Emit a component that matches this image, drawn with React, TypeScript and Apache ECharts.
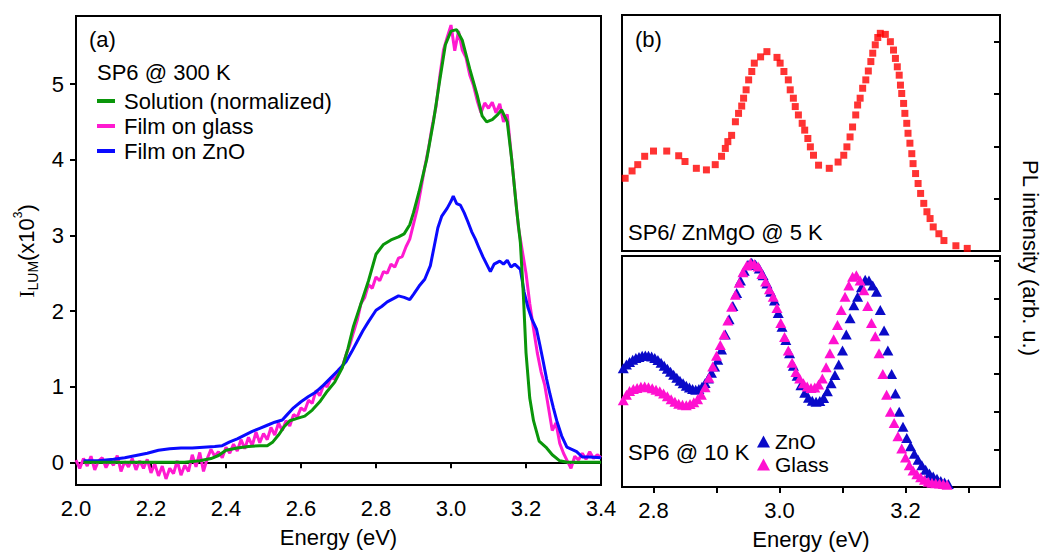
import React, { useEffect, useRef } from "react";
import * as echarts from "echarts";

const FONT = "'Liberation Sans', Arial, sans-serif";

// ---------- Panel (a) ----------
const xTicksA = [2.0, 2.2, 2.4, 2.6, 2.8, 3.0, 3.2, 3.4];
const yTicksA = [0, 1, 2, 3, 4, 5];

const solutionE = [2.02, 2.1, 2.2, 2.29, 2.33, 2.36, 2.38, 2.4, 2.43, 2.46, 2.49, 2.51, 2.525, 2.54, 2.555, 2.57, 2.59, 2.61, 2.63, 2.65, 2.67, 2.69, 2.71, 2.725, 2.74, 2.76, 2.78, 2.8, 2.82, 2.84, 2.86, 2.875, 2.89, 2.9, 2.915, 2.935, 2.953, 2.97, 2.985, 3.0, 3.015, 3.03, 3.05, 3.07, 3.083, 3.095, 3.11, 3.125, 3.135, 3.15, 3.162, 3.175, 3.185, 3.193, 3.2, 3.21, 3.22, 3.235, 3.255, 3.27, 3.29, 3.31, 3.4];
const solutionI = [0, 0, 0, 0, 0.02, 0.05, 0.09, 0.16, 0.19, 0.21, 0.22, 0.22, 0.27, 0.36, 0.47, 0.55, 0.58, 0.61, 0.69, 0.8, 0.94, 1.06, 1.25, 1.5, 1.8, 2.1, 2.4, 2.75, 2.88, 2.94, 2.98, 3.02, 3.14, 3.3, 3.58, 4.0, 4.5, 5.05, 5.52, 5.7, 5.72, 5.58, 5.2, 4.85, 4.58, 4.5, 4.53, 4.6, 4.66, 4.5, 4.0, 3.34, 2.9, 2.21, 1.45, 0.85, 0.55, 0.28, 0.19, 0.1, 0.02, 0, 0];

const znoFilmE = [2.02, 2.06, 2.1, 2.13, 2.16, 2.19, 2.22, 2.25, 2.28, 2.31, 2.34, 2.37, 2.39, 2.41, 2.43, 2.45, 2.47, 2.49, 2.51, 2.53, 2.55, 2.565, 2.58, 2.6, 2.62, 2.64, 2.66, 2.68, 2.7, 2.72, 2.735, 2.75, 2.765, 2.78, 2.8, 2.815, 2.83, 2.845, 2.86, 2.875, 2.89, 2.9, 2.915, 2.93, 2.945, 2.955, 2.965, 2.975, 2.99, 3.0, 3.006, 3.015, 3.025, 3.035, 3.045, 3.055, 3.065, 3.075, 3.085, 3.095, 3.105, 3.115, 3.13, 3.14, 3.15, 3.16, 3.17, 3.185, 3.195, 3.205, 3.215, 3.228, 3.237, 3.246, 3.255, 3.264, 3.273, 3.282, 3.295, 3.309, 3.322, 3.335, 3.35, 3.37, 3.4];
const znoFilmI = [0.02, 0.02, 0.04, 0.06, 0.09, 0.12, 0.16, 0.18, 0.19, 0.19, 0.2, 0.21, 0.22, 0.27, 0.31, 0.36, 0.41, 0.45, 0.49, 0.53, 0.56, 0.64, 0.72, 0.8, 0.87, 0.93, 1.02, 1.12, 1.22, 1.33, 1.46, 1.6, 1.74, 1.86, 2.01, 2.06, 2.12, 2.16, 2.2, 2.18, 2.15, 2.22, 2.33, 2.42, 2.6, 2.85, 3.1, 3.25, 3.36, 3.45, 3.52, 3.42, 3.4, 3.3, 3.18, 3.05, 2.95, 2.83, 2.72, 2.62, 2.52, 2.62, 2.66, 2.62, 2.67, 2.58, 2.62, 2.55, 2.25, 2.05, 1.9, 1.76, 1.55, 1.33, 1.1, 0.9, 0.72, 0.55, 0.35, 0.2, 0.17, 0.14, 0.07, 0.07, 0.06];

const glassFilmE = [2.0, 2.01, 2.02, 2.03, 2.04, 2.05, 2.06, 2.07, 2.08, 2.09, 2.1, 2.11, 2.12, 2.13, 2.14, 2.15, 2.16, 2.17, 2.18, 2.19, 2.2, 2.21, 2.22, 2.23, 2.24, 2.25, 2.26, 2.27, 2.28, 2.29, 2.3, 2.31, 2.32, 2.33, 2.34, 2.35, 2.36, 2.37, 2.38, 2.39, 2.4, 2.41, 2.42, 2.43, 2.44, 2.45, 2.46, 2.47, 2.48, 2.49, 2.5, 2.51, 2.52, 2.53, 2.54, 2.55, 2.56, 2.57, 2.58, 2.59, 2.6, 2.61, 2.62, 2.63, 2.64, 2.65, 2.66, 2.67, 2.68, 2.69, 2.7, 2.71, 2.72, 2.73, 2.74, 2.75, 2.76, 2.77, 2.78, 2.79, 2.8, 2.81, 2.82, 2.83, 2.84, 2.85, 2.86, 2.87, 2.88, 2.89, 2.9, 2.91, 2.92, 2.93, 2.94, 2.95, 2.96, 2.97, 2.98, 2.99, 3.0, 3.01, 3.02, 3.03, 3.04, 3.05, 3.06, 3.07, 3.08, 3.09, 3.1, 3.11, 3.12, 3.13, 3.14, 3.15, 3.16, 3.17, 3.18, 3.19, 3.2, 3.21, 3.22, 3.23, 3.24, 3.25, 3.26, 3.27, 3.28, 3.29, 3.3, 3.31, 3.32, 3.33, 3.34, 3.35, 3.36, 3.37, 3.38, 3.39, 3.4];
const glassFilmI = [0.03, -0.08, 0.05, -0.05, 0.08, -0.1, 0.02, 0.06, -0.07, 0.03, -0.04, 0.09, -0.12, 0.01, -0.06, 0.05, -0.1, 0.02, -0.08, 0.04, -0.14, -0.02, -0.18, -0.05, -0.22, -0.08, -0.15, 0.02, -0.17, -0.04, -0.12, 0.1, -0.06, 0.13, -0.12, 0.05, 0.17, 0.08, 0.14, 0.06, 0.2, 0.12, 0.24, 0.15, 0.3, 0.18, 0.33, 0.22, 0.4, 0.26, 0.38, 0.3, 0.46, 0.36, 0.52, 0.42, 0.55, 0.48, 0.63, 0.6, 0.72, 0.68, 0.82, 0.78, 0.95, 0.88, 1.02, 1.0, 1.12, 1.1, 1.22, 1.26, 1.42, 1.55, 1.72, 1.88, 2.1, 2.18, 2.35, 2.3, 2.45, 2.4, 2.52, 2.5, 2.62, 2.58, 2.7, 2.72, 2.85, 2.95, 3.15, 3.35, 3.62, 3.9, 4.15, 4.45, 4.7, 5.1, 5.45, 5.62, 5.78, 5.44, 5.7, 5.45, 5.35, 5.12, 4.98, 4.78, 4.62, 4.75, 4.68, 4.76, 4.62, 4.74, 4.5, 4.6, 4.1, 3.6, 3.1, 2.8, 2.5, 2.1, 1.77, 1.45, 1.2, 1.02, 0.72, 0.42, 0.52, 0.25, 0.12, 0.02, -0.08, 0.08, 0.03, 0.12, 0.04, 0.14, 0.05, 0.1, 0.06];

// ---------- Panel (b) ----------
const xTicksB = [2.8, 2.9, 3.0, 3.1, 3.2, 3.3];
const xLabelsB = [2.8, 3.0, 3.2];
const yTicksBTop = [0, 1, 2, 3, 4];
const yTicksBBottom = [0, 1, 2, 3, 4, 5, 6];

const znmgoE = [2.755, 2.766, 2.775, 2.786, 2.8, 2.821, 2.84, 2.85, 2.868, 2.884, 2.898, 2.908, 2.914, 2.918, 2.924, 2.93, 2.935, 2.94, 2.943, 2.947, 2.951, 2.956, 2.96, 2.97, 2.98, 2.996, 3.001, 3.007, 3.014, 3.017, 3.022, 3.025, 3.03, 3.036, 3.04, 3.045, 3.049, 3.054, 3.062, 3.079, 3.093, 3.102, 3.107, 3.112, 3.116, 3.121, 3.124, 3.128, 3.132, 3.137, 3.141, 3.145, 3.148, 3.152, 3.156, 3.16, 3.168, 3.176, 3.181, 3.184, 3.187, 3.19, 3.192, 3.194, 3.197, 3.199, 3.202, 3.204, 3.207, 3.21, 3.212, 3.216, 3.22, 3.224, 3.229, 3.234, 3.239, 3.244, 3.253, 3.261, 3.28, 3.298];
const znmgoPL = [1.39, 1.53, 1.65, 1.81, 1.91, 1.91, 1.82, 1.71, 1.58, 1.55, 1.65, 1.81, 1.96, 2.09, 2.21, 2.47, 2.63, 2.77, 2.92, 3.08, 3.27, 3.43, 3.59, 3.71, 3.81, 3.7, 3.59, 3.43, 3.27, 3.08, 2.92, 2.76, 2.6, 2.44, 2.31, 2.15, 1.99, 1.83, 1.64, 1.58, 1.7, 1.83, 1.99, 2.18, 2.37, 2.6, 2.79, 2.92, 3.11, 3.27, 3.44, 3.62, 3.78, 3.94, 4.08, 4.16, 4.14, 4.0, 3.84, 3.68, 3.52, 3.36, 3.17, 3.01, 2.82, 2.63, 2.44, 2.25, 2.06, 1.86, 1.67, 1.48, 1.29, 1.1, 0.91, 0.75, 0.62, 0.46, 0.33, 0.2, 0.1, 0.05];

const znoE = [2.752, 2.757, 2.762, 2.767, 2.772, 2.777, 2.782, 2.787, 2.792, 2.797, 2.802, 2.807, 2.812, 2.817, 2.822, 2.827, 2.832, 2.837, 2.842, 2.847, 2.852, 2.857, 2.862, 2.867, 2.872, 2.877, 2.882, 2.887, 2.892, 2.897, 2.902, 2.908, 2.914, 2.92, 2.926, 2.932, 2.938, 2.944, 2.95, 2.956, 2.962, 2.968, 2.974, 2.98, 2.986, 2.992, 2.998, 3.004, 3.01, 3.016, 3.022, 3.028, 3.034, 3.04, 3.046, 3.052, 3.058, 3.064, 3.07, 3.076, 3.082, 3.088, 3.094, 3.1, 3.106, 3.112, 3.118, 3.124, 3.13, 3.136, 3.142, 3.148, 3.154, 3.16, 3.166, 3.172, 3.178, 3.184, 3.19, 3.196, 3.202, 3.208, 3.214, 3.22, 3.226, 3.232, 3.238, 3.244, 3.25, 3.256, 3.262, 3.268];
const znoPL = [3.15, 3.25, 3.32, 3.38, 3.42, 3.45, 3.48, 3.49, 3.48, 3.46, 3.42, 3.37, 3.3, 3.22, 3.14, 3.06, 2.98, 2.9, 2.82, 2.75, 2.69, 2.64, 2.6, 2.58, 2.6, 2.66, 2.76, 2.88, 3.03, 3.2, 3.38, 3.65, 4.05, 4.45, 4.8, 5.15, 5.48, 5.74, 5.9, 5.95, 5.9, 5.8, 5.62, 5.4, 5.18, 4.95, 4.62, 4.25, 3.9, 3.55, 3.22, 2.95, 2.7, 2.5, 2.37, 2.29, 2.26, 2.28, 2.36, 2.54, 2.75, 2.97, 3.25, 3.62, 4.05, 4.48, 4.82, 5.05, 5.3, 5.5, 5.48, 5.35, 5.18, 4.7, 4.15, 3.62, 3.0, 2.48, 2.0, 1.6, 1.3, 1.08, 0.88, 0.72, 0.58, 0.46, 0.36, 0.28, 0.22, 0.16, 0.12, 0.08];

const glassE = [2.752, 2.757, 2.762, 2.768, 2.774, 2.78, 2.786, 2.792, 2.798, 2.804, 2.81, 2.816, 2.822, 2.828, 2.834, 2.84, 2.846, 2.852, 2.858, 2.864, 2.87, 2.876, 2.882, 2.888, 2.894, 2.9, 2.906, 2.912, 2.918, 2.924, 2.93, 2.936, 2.942, 2.948, 2.954, 2.96, 2.966, 2.972, 2.978, 2.984, 2.99, 2.996, 3.002, 3.008, 3.014, 3.02, 3.026, 3.032, 3.038, 3.044, 3.05, 3.056, 3.062, 3.068, 3.074, 3.08, 3.086, 3.092, 3.098, 3.104, 3.11, 3.116, 3.122, 3.128, 3.134, 3.14, 3.146, 3.152, 3.158, 3.164, 3.17, 3.176, 3.182, 3.188, 3.194, 3.2, 3.206, 3.212, 3.218, 3.224, 3.23, 3.236, 3.242, 3.248, 3.254, 3.26, 3.266];
const glassPL = [2.3, 2.45, 2.55, 2.6, 2.63, 2.66, 2.67, 2.65, 2.62, 2.58, 2.54, 2.48, 2.41, 2.33, 2.26, 2.21, 2.18, 2.17, 2.2, 2.25, 2.33, 2.45, 2.65, 2.9, 3.2, 3.48, 3.77, 4.05, 4.42, 4.78, 5.1, 5.42, 5.7, 5.88, 5.95, 5.92, 5.85, 5.65, 5.45, 5.25, 5.05, 4.75, 4.35, 3.98, 3.62, 3.3, 3.05, 2.88, 2.75, 2.67, 2.63, 2.64, 2.72, 2.88, 3.18, 3.55, 3.92, 4.3, 4.7, 5.05, 5.35, 5.58, 5.62, 5.48, 5.22, 4.8, 4.35, 4.0, 3.55, 3.0, 2.45, 2.0, 1.7, 1.35, 1.02, 0.78, 0.58, 0.44, 0.34, 0.26, 0.19, 0.14, 0.11, 0.1, 0.09, 0.08, 0.06];

const zip = (a: number[], b: number[]) => a.map((v, i) => [v, b[i]]);

const BLACK = "#000";
const GREEN = "#0a960a";
const PINK = "#ff1ad0";
const BLUE = "#0a0aff";
const RED = "#ff0000";
const TRI_BLUE = "#0a0ac8";
const TRI_PINK = "#ff10d0";
const FS = 22;

export default function App() {
  const ref = useRef<HTMLDivElement>(null);
  useEffect(() => {
    if (!ref.current) return;
    const chart = echarts.init(ref.current, null, { renderer: "svg" });
    const axisLine = { show: true, lineStyle: { color: BLACK, width: 2 } };
    const frame = { show: true, borderColor: BLACK, borderWidth: 2, backgroundColor: "transparent" };
    const labelStyle = { color: BLACK, fontSize: FS, fontFamily: FONT };
    const font = `${FS}px ${FONT}`;
    const option: any = {
      animation: false,
      backgroundColor: "#fff",
      textStyle: { fontFamily: FONT, color: BLACK },
      grid: [
        { left: 76, top: 16, width: 525, height: 472, ...frame },
        { left: 622, top: 15, width: 378, height: 236, ...frame },
        { left: 622, top: 256, width: 378, height: 231, ...frame },
      ],
      xAxis: [
        {
          gridIndex: 0, type: "value", min: 2.0, max: 3.4,
          axisLine, splitLine: { show: false },
          axisTick: { show: true, inside: false, length: 6, lineStyle: { color: BLACK, width: 2 }, customValues: xTicksA },
          axisLabel: { ...labelStyle, margin: 12, customValues: xTicksA, formatter: (v: number) => v.toFixed(1) },
          name: "Energy (eV)", nameLocation: "middle", nameGap: 41,
          nameTextStyle: { ...labelStyle },
        },
        {
          gridIndex: 1, type: "value", min: 2.75, max: 3.35,
          axisLine, splitLine: { show: false }, axisTick: { show: false }, axisLabel: { show: false },
        },
        {
          gridIndex: 2, type: "value", min: 2.75, max: 3.35,
          axisLine, splitLine: { show: false },
          axisTick: { show: true, inside: false, length: 6, lineStyle: { color: BLACK, width: 2 }, customValues: xTicksB },
          axisLabel: { ...labelStyle, margin: 12, customValues: xLabelsB, formatter: (v: number) => v.toFixed(1) },
          name: "Energy (eV)", nameLocation: "middle", nameGap: 41,
          nameTextStyle: { ...labelStyle },
        },
      ],
      yAxis: [
        {
          gridIndex: 0, type: "value", min: -0.3, max: 5.9,
          axisLine, splitLine: { show: false },
          axisTick: { show: true, inside: false, length: 6, lineStyle: { color: BLACK, width: 2 }, customValues: yTicksA },
          axisLabel: { ...labelStyle, margin: 12, customValues: yTicksA },
        },
        {
          gridIndex: 1, type: "value", min: 0, max: 4.51, position: "right",
          axisLine, splitLine: { show: false },
          axisTick: { show: true, inside: true, length: 6, lineStyle: { color: BLACK, width: 2 }, customValues: yTicksBTop },
          axisLabel: { show: false },
        },
        {
          gridIndex: 2, type: "value", min: 0, max: 6.13, position: "right",
          axisLine, splitLine: { show: false },
          axisTick: { show: true, inside: true, length: 6, lineStyle: { color: BLACK, width: 2 }, customValues: yTicksBBottom },
          axisLabel: { show: false },
        },
      ],
      legend: [
        {
          data: ["Solution (normalized)", "Film on glass", "Film on ZnO"],
          orient: "vertical", left: 97, top: 90, padding: 0, itemWidth: 18, itemHeight: 4, itemGap: 3,
          icon: "rect", selectedMode: false,
          textStyle: { ...labelStyle, padding: [0, 0, 0, 4] },
        },
        {
          data: ["ZnO", "Glass"],
          orient: "vertical", left: 757, top: 431, padding: 0, itemWidth: 13, itemHeight: 12, itemGap: 2,
          icon: "triangle", selectedMode: false,
          textStyle: { ...labelStyle, fontSize: 21 },
        },
      ],
      graphic: [
        { type: "text", left: 89, top: 28, style: { text: "(a)", fill: BLACK, font } },
        { type: "text", left: 97, top: 61, style: { text: "SP6 @ 300 K", fill: BLACK, font } },
        { type: "text", left: 635, top: 28, style: { text: "(b)", fill: BLACK, font } },
        { type: "text", left: 628, top: 221, style: { text: "SP6/ ZnMgO @ 5 K", fill: BLACK, font } },
        { type: "text", left: 628, top: 441, style: { text: "SP6 @ 10 K", fill: BLACK, font } },
        {
          type: "text", x: 1030, y: 258, rotation: -Math.PI / 2,
          style: { text: "PL intensity (arb. u.)", fill: BLACK, font, align: "center", verticalAlign: "middle" },
        },
        {
          type: "text", x: 26, y: 251, rotation: Math.PI / 2,
          style: {
            text: "{i|I}{s|LUM}{n|(x10}{p|3}{n|)}",
            align: "center", verticalAlign: "middle",
            rich: {
              i: { fontSize: 22, fontFamily: "'Liberation Serif', serif", fill: BLACK, lineHeight: 28 },
              s: { fontSize: 14, fontFamily: FONT, fill: BLACK, verticalAlign: "bottom", lineHeight: 28 },
              n: { fontSize: 22, fontFamily: FONT, fill: BLACK, lineHeight: 28 },
              p: { fontSize: 12, fontFamily: FONT, fill: BLACK, verticalAlign: "top", lineHeight: 28 },
            },
          },
        },
      ],
      series: [
        {
          name: "Film on glass", type: "line", xAxisIndex: 0, yAxisIndex: 0,
          data: zip(glassFilmE, glassFilmI), showSymbol: false, symbol: "none",
          lineStyle: { color: PINK, width: 3 }, itemStyle: { color: PINK }, z: 2,
        },
        {
          name: "Film on ZnO", type: "line", xAxisIndex: 0, yAxisIndex: 0,
          data: zip(znoFilmE, znoFilmI), showSymbol: false, symbol: "none",
          lineStyle: { color: BLUE, width: 3 }, itemStyle: { color: BLUE }, z: 3,
        },
        {
          name: "Solution (normalized)", type: "line", xAxisIndex: 0, yAxisIndex: 0,
          data: zip(solutionE, solutionI), showSymbol: false, symbol: "none",
          lineStyle: { color: GREEN, width: 3 }, itemStyle: { color: GREEN }, z: 4,
        },
        {
          name: "ZnMgO", type: "scatter", xAxisIndex: 1, yAxisIndex: 1,
          data: zip(znmgoE, znmgoPL), symbol: "rect", symbolSize: 7,
          itemStyle: { color: RED },
        },
        {
          name: "ZnO", type: "scatter", xAxisIndex: 2, yAxisIndex: 2,
          data: zip(znoE, znoPL), symbol: "triangle", symbolSize: [11, 10],
          itemStyle: { color: TRI_BLUE, opacity: 1 }, z: 2,
        },
        {
          name: "Glass", type: "scatter", xAxisIndex: 2, yAxisIndex: 2,
          data: zip(glassE, glassPL), symbol: "triangle", symbolSize: [11, 10],
          itemStyle: { color: TRI_PINK, opacity: 1 }, z: 3,
        },
      ],
    };
    chart.setOption(option);
    return () => chart.dispose();
  }, []);
  return (
    <div
      ref={ref}
      style={{ position: "absolute", left: 0, top: 0, width: 1043, height: 553, background: "#fff" }}
    />
  );
}
